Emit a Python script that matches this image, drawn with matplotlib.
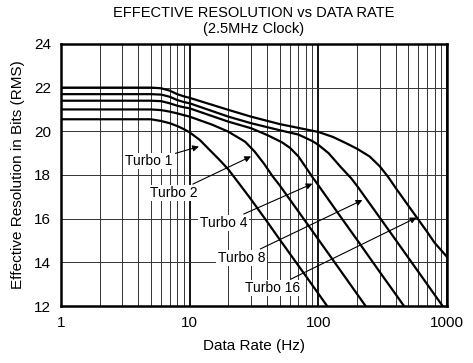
import numpy as np
import matplotlib
matplotlib.use('Agg')
import matplotlib.pyplot as plt

plt.rcParams['font.family'] = ['Liberation Sans', 'DejaVu Sans']

# data (Hz, bits rms)
freq_t1 = [1, 5, 6, 7, 8, 9, 10, 12, 14, 17, 20, 25, 30, 40, 50, 60, 80, 100, 117]
res_t1 = [20.55, 20.55, 20.47, 20.37, 20.24, 20.1, 19.95, 19.6, 19.2, 18.7, 18.25,
          17.5, 16.88, 15.86, 15.05, 14.4, 13.37, 12.57, 12.0]

freq_t2 = [1, 5, 6, 7, 8, 9, 10, 15, 20, 27, 32, 38, 44, 50, 60, 80, 100, 150, 200, 233]
res_t2 = [21.0, 21.0, 20.97, 20.9, 20.82, 20.74, 20.67, 20.3, 19.98, 19.52, 19.07,
          18.5, 17.95, 17.53, 16.88, 15.85, 15.05, 13.59, 12.55, 12.0]

freq_t4 = [1, 5, 6, 7, 8, 9, 10, 20, 30, 40, 52, 60, 70, 80, 90, 100, 150, 200, 300, 400, 463]
res_t4 = [21.4, 21.4, 21.38, 21.28, 21.17, 21.1, 21.05, 20.44, 20.14, 19.83, 19.5,
          19.25, 18.85, 18.35, 17.9, 17.53, 16.06, 15.03, 13.56, 12.53, 12.0]

freq_t8 = [1, 5, 6, 7, 8, 9, 10, 20, 30, 50, 70, 90, 100, 120, 150, 180, 200, 300, 400, 600, 800, 925]
res_t8 = [21.7, 21.7, 21.68, 21.58, 21.43, 21.34, 21.28, 20.67, 20.37, 20.05, 19.85,
          19.55, 19.38, 19.0, 18.35, 17.85, 17.5, 16.05, 15.02, 13.56, 12.52, 12.0]

freq_t16 = [1, 5, 6, 7, 8, 9, 10, 20, 30, 50, 100, 130, 165, 200, 250, 300, 350, 400,
            500, 600, 700, 800, 1000]
res_t16 = [22.0, 22.0, 21.97, 21.86, 21.7, 21.6, 21.53, 20.98, 20.67, 20.33, 19.97,
           19.74, 19.45, 19.2, 18.85, 18.4, 17.9, 17.4, 16.6, 15.95, 15.4, 14.9, 14.25]

labels = ['Turbo 1', 'Turbo 2', 'Turbo 4', 'Turbo 8', 'Turbo 16']
label_pos = [(4.83, 18.64), (7.55, 17.17), (18.3, 15.8), (25.3, 14.2), (44.1, 12.82)]
arrow_tip = [(11.8, 19.3), (30, 18.85), (90, 17.6), (220, 16.85), (580, 16.05)]

x_ticks = [1, 10, 100, 1000]
x_ticklabels = ['1', '10', '100', '1000']
y_ticks = [12, 14, 16, 18, 20, 22, 24]

fig = plt.figure(figsize=(4.73, 3.63), dpi=100)
ax = fig.add_axes([0.129, 0.157, 0.816, 0.722])

curves = [(freq_t1, res_t1), (freq_t2, res_t2), (freq_t4, res_t4),
          (freq_t8, res_t8), (freq_t16, res_t16)]
for f, r in curves:
    ax.plot(f, r, color='black', lw=1.6, solid_joinstyle='round', zorder=3)

ax.set_xscale('log')
ax.set_xlim(1, 1000)
ax.set_ylim(12, 24)
ax.set_xticks(x_ticks)
ax.set_xticklabels(x_ticklabels)
ax.set_xticks([m * d for d in [1, 10, 100] for m in range(2, 10)], minor=True)
ax.set_yticks(y_ticks)
ax.tick_params(which='both', length=0, labelsize=11, pad=7)

ax.grid(which='minor', axis='x', color='#333333', lw=0.7)
ax.grid(which='major', axis='x', color='black', lw=1.3)
ax.grid(which='major', axis='y', color='#333333', lw=0.7)
ax.set_axisbelow(True)
for s in ax.spines.values():
    s.set_linewidth(1.8)

for lab, pos, tip in zip(labels, label_pos, arrow_tip):
    ax.annotate(lab, xy=tip, xytext=pos, ha='center', va='center', fontsize=10,
                bbox=dict(boxstyle='square,pad=0.1', fc='white', ec='none'),
                arrowprops=dict(arrowstyle='-|>', color='black', lw=0.8,
                                mutation_scale=9, shrinkA=1, shrinkB=0),
                zorder=4)

ax.set_xlabel('Data Rate (Hz)', fontsize=11, labelpad=7)
ax.set_ylabel('Effective Resolution in Bits (RMS)', fontsize=11, labelpad=7)
ax.set_title('EFFECTIVE RESOLUTION vs DATA RATE\n(2.5MHz Clock)', fontsize=10.5,
             linespacing=1.2, pad=8)

fig.savefig('out.png', dpi=100)
